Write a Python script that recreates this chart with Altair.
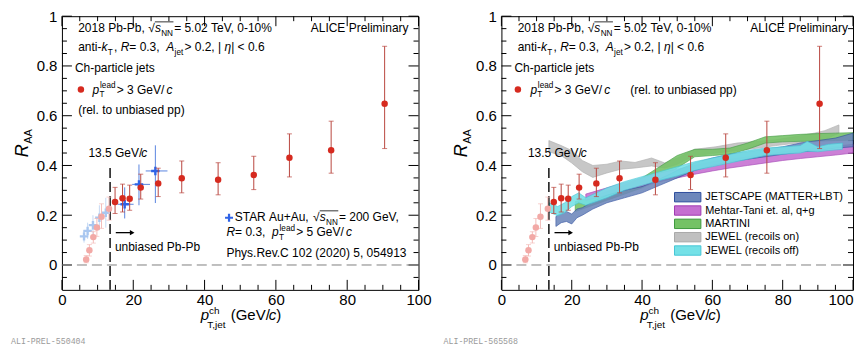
import altair as alt
import pandas as pd

# ---------------- data ----------------
CUT = 13.5  # unbiased Pb-Pb threshold (GeV/c)

# ALICE R_AA (p_T^lead > 3 GeV/c)
alice_pt = [6.8, 7.7, 8.8, 9.8, 11.1, 13.2, 14.9, 17.0, 19.0, 22.1, 27.0, 33.6, 43.8, 53.8, 63.8, 75.5, 90.5]
alice_raa = [0.022, 0.059, 0.112, 0.151, 0.194, 0.226, 0.253, 0.268, 0.266, 0.311, 0.328, 0.349, 0.343, 0.362, 0.431, 0.461, 0.648]
alice_hi = [0.038, 0.082, 0.134, 0.187, 0.246, 0.273, 0.312, 0.325, 0.321, 0.365, 0.389, 0.418, 0.411, 0.437, 0.527, 0.578, 0.879]
alice_lo = [0.009, 0.036, 0.088, 0.115, 0.147, 0.180, 0.207, 0.213, 0.220, 0.265, 0.275, 0.290, 0.282, 0.303, 0.354, 0.369, 0.468]

# STAR Au+Au R = 0.3, p_T^lead > 5 GeV/c
star_pt = [6.2, 7.2, 8.7, 10.5, 12.3, 17.6, 21.6, 26.2]
star_raa = [0.115, 0.137, 0.160, 0.190, 0.210, 0.244, 0.324, 0.378]
star_hi = [0.140, 0.170, 0.200, 0.240, 0.270, 0.312, 0.404, 0.481]
star_lo = [0.090, 0.105, 0.120, 0.140, 0.150, 0.187, 0.240, 0.249]
star_xlo = [5.6, 6.7, 8.0, 9.6, 11.4, 15.6, 19.7, 23.5]
star_xhi = [6.8, 7.8, 9.4, 11.4, 13.2, 20.1, 24.7, 29.6]

# model bands
jetscape_x = [15.5, 17, 18.5, 20, 21.5, 23, 26, 30, 35, 40, 45, 50, 55, 60, 65, 70, 75, 80, 85, 90, 95, 100]
jetscape_hi = [0.195, 0.21, 0.215, 0.205, 0.225, 0.23, 0.255, 0.28, 0.30, 0.315, 0.345, 0.38, 0.41, 0.43, 0.445, 0.455, 0.465, 0.475, 0.49, 0.50, 0.51, 0.53]
jetscape_lo = [0.155, 0.17, 0.175, 0.165, 0.19, 0.20, 0.225, 0.25, 0.27, 0.29, 0.32, 0.35, 0.38, 0.40, 0.415, 0.425, 0.435, 0.445, 0.455, 0.46, 0.47, 0.475]

mehtar_x = [24, 30, 35, 40, 45, 50, 55, 60, 65, 70, 75, 80, 85, 90, 95, 100]
mehtar_hi = [0.285, 0.31, 0.33, 0.35, 0.37, 0.385, 0.40, 0.415, 0.425, 0.435, 0.445, 0.455, 0.462, 0.47, 0.477, 0.485]
mehtar_lo = [0.26, 0.28, 0.30, 0.315, 0.335, 0.35, 0.365, 0.378, 0.39, 0.40, 0.41, 0.42, 0.428, 0.435, 0.442, 0.45]

martini_x = [21, 25, 30, 35, 40, 45, 50, 55, 60, 65, 70, 75, 80, 85, 90, 95, 100]
martini_hi = [0.255, 0.27, 0.295, 0.32, 0.35, 0.395, 0.44, 0.465, 0.465, 0.47, 0.49, 0.515, 0.52, 0.525, 0.528, 0.53, 0.532]
martini_lo = [0.215, 0.235, 0.26, 0.285, 0.31, 0.345, 0.39, 0.435, 0.44, 0.445, 0.465, 0.49, 0.495, 0.497, 0.498, 0.50, 0.502]

jewel_on_x = [13.5, 17, 20, 23, 26, 30, 34, 38, 42.7, 46.5, 50, 55, 61, 67, 73, 78, 84, 89, 92, 96]
jewel_on_hi = [0.50, 0.48, 0.46, 0.42, 0.40, 0.405, 0.418, 0.412, 0.43, 0.41, 0.43, 0.465, 0.475, 0.49, 0.497, 0.503, 0.517, 0.53, 0.54, 0.563]
jewel_on_lo = [0.455, 0.44, 0.41, 0.375, 0.352, 0.37, 0.385, 0.39, 0.398, 0.39, 0.405, 0.44, 0.45, 0.46, 0.47, 0.48, 0.49, 0.50, 0.505, 0.53]

jewel_off_x = [13.5, 16, 18, 20, 22, 24, 27, 30, 35, 40, 45, 50, 55, 60, 65, 70, 75, 80, 85, 87, 90, 93, 97]
jewel_off_hi = [0.25, 0.235, 0.25, 0.275, 0.29, 0.27, 0.29, 0.31, 0.335, 0.355, 0.375, 0.395, 0.415, 0.43, 0.445, 0.46, 0.47, 0.475, 0.48, 0.497, 0.475, 0.485, 0.49]
jewel_off_lo = [0.213, 0.198, 0.21, 0.235, 0.25, 0.24, 0.255, 0.27, 0.30, 0.32, 0.34, 0.358, 0.38, 0.395, 0.41, 0.425, 0.44, 0.445, 0.45, 0.457, 0.455, 0.46, 0.465]

model_names = ["JETSCAPE (MATTER+LBT)", "Mehtar-Tani et. al, q+g", "MARTINI", "JEWEL (recoils on)", "JEWEL (recoils off)"]

# axis ticks
x_major = [0, 20, 40, 60, 80, 100]
x_minor = [5, 10, 15, 25, 30, 35, 45, 50, 55, 65, 70, 75, 85, 90, 95]
y_major = [0, 0.2, 0.4, 0.6, 0.8, 1.0]
y_minor = [-0.05, 0.05, 0.1, 0.15, 0.25, 0.3, 0.35, 0.45, 0.5, 0.55, 0.65, 0.7, 0.75, 0.85, 0.9, 0.95]

# ---------------- style ----------------
W_LEFT, W_RIGHT, H = 357, 352, 274
TOP = 15.5  # page y of the plot top; annotations are placed from reference page coordinates


def PY(page_y):
    return page_y - TOP


FONT = "Liberation Sans"
RED, RED_ERR, RED_F, RED_FERR = "#d62a1f", "#b9463f", "#f2a9a6", "#f3bdba"
BLUE, BLUE_ERR, BLUE_F, BLUE_FERR = "#2f63e6", "#5a86e0", "#a9c7f0", "#c6d9f3"
PLUS = "M-1,-0.28H-0.28V-1H0.28V-0.28H1V0.28H0.28V1H-0.28V0.28H-1Z"
MODEL_STYLE = {
    "JETSCAPE (MATTER+LBT)": ("#6d87bb", "#2e4e9e"),
    "Mehtar-Tani et. al, q+g": ("#c56fd1", "#a13cb3"),
    "MARTINI": ("#74c265", "#3f9a3f"),
    "JEWEL (recoils on)": ("#c0c0c0", "#a9a9a9"),
    "JEWEL (recoils off)": ("#74e1e7", "#46c6d6"),
}

xs = alt.Scale(domain=[0, 100], nice=False, zero=False)
ys = alt.Scale(domain=[-0.1, 1.0], nice=False, zero=False)
yaxis = alt.Axis(values=y_major, ticks=False, domain=False, grid=False, title=None, labelPadding=5,
                 labelExpr="datum.value == 0 ? '0' : (datum.value == 1 ? '1' : format(datum.value, '.1f'))")

dummy = pd.DataFrame({"d": [0]})

AW = {' ': 278, '\u00a0': 278, '%': 889, '(': 333, ')': 333, '+': 584, ',': 278, '-': 333, '.': 278, '/': 278,
      '<': 584, '=': 584, '>': 584, '|': 260, '√': 560, 'η': 556,
      'A': 667, 'B': 667, 'C': 722, 'D': 722, 'E': 667, 'F': 611, 'G': 778, 'H': 722, 'I': 278,
      'J': 500, 'K': 667, 'L': 556, 'M': 833, 'N': 722, 'O': 778, 'P': 667, 'Q': 778, 'R': 722,
      'S': 667, 'T': 611, 'U': 722, 'V': 667, 'W': 944, 'X': 667, 'Y': 667, 'Z': 611,
      'a': 556, 'b': 556, 'c': 500, 'd': 556, 'e': 556, 'f': 278, 'g': 556, 'h': 556, 'i': 222,
      'j': 222, 'k': 500, 'l': 222, 'm': 833, 'n': 556, 'o': 556, 'p': 556, 'q': 556, 'r': 333,
      's': 500, 't': 278, 'u': 556, 'v': 500, 'w': 722, 'x': 500, 'y': 500, 'z': 500}


def tw(s, size):
    return sum(AW.get(c, 556) for c in s) * size / 1000.0


def txt(s, x, y, size, italic=False, align="left", color="black", font=FONT, angle=None,
        baseline="alphabetic"):
    kw = dict(text=s.replace(" ", "\u00a0"), font=font, fontSize=size, align=align, baseline=baseline,
              color=color)
    if italic:
        kw["fontStyle"] = "italic"
    if angle is not None:
        kw["angle"] = angle
    return alt.Chart(dummy).mark_text(**kw).encode(x=alt.value(x), y=alt.value(y))


def hline(x0, x1, y, color="black", w=0.8):
    return alt.Chart(dummy).mark_rule(color=color, strokeWidth=w).encode(
        x=alt.value(x0), x2=alt.value(x1), y=alt.value(y))


SUBF = 0.68


def rich(parts, x0, y0, size):
    out, x, bar0, prev = [], x0, None, ""
    for p in parts:
        t, k = p[0], p[1]
        if k in ("n", "i"):
            if k == "i" and prev.endswith("/"):
                x -= 1.2
            out.append(txt(t, x, y0, size, italic=(k == "i")))
            x += tw(t, size)
            prev = t
        elif k == "sub":
            s = size * SUBF
            out.append(txt(t, x + 0.3, y0 + size * 0.28, s))
            x += tw(t, s) + 1.5
            prev = t
        elif k == "ss":
            s = size * SUBF
            out.append(txt(t, x + 0.3, y0 + size * 0.3, s))
            out.append(txt(p[2], x + 0.8, y0 - size * 0.45, s))
            x += max(tw(t, s), tw(p[2], s) + 0.5) + 1.5
            prev = t
        elif k == "bar0":
            bar0 = x
        elif k == "bar1":
            out.append(hline(bar0, x - 0.7, y0 - size * 0.86))
    return out


alice_df = pd.DataFrame({"x": alice_pt, "y": alice_raa, "hi": alice_hi, "lo": alice_lo})
star_df = pd.DataFrame({"x": star_pt, "y": star_raa, "hi": star_hi, "lo": star_lo,
                        "xlo": star_xlo, "xhi": star_xhi})

band_data = {
    "JETSCAPE (MATTER+LBT)": (jetscape_x, jetscape_hi, jetscape_lo),
    "Mehtar-Tani et. al, q+g": (mehtar_x, mehtar_hi, mehtar_lo),
    "MARTINI": (martini_x, martini_hi, martini_lo),
    "JEWEL (recoils on)": (jewel_on_x, jewel_on_hi, jewel_on_lo),
    "JEWEL (recoils off)": (jewel_off_x, jewel_off_hi, jewel_off_lo),
}
band_order = ["JEWEL (recoils on)", "MARTINI", "Mehtar-Tani et. al, q+g", "JETSCAPE (MATTER+LBT)", "JEWEL (recoils off)"]


def panel(right, ali_text, ali_dx):
    W = W_RIGHT if right else W_LEFT
    if right:
        label_align = {"condition": {"test": "datum.value == 100", "value": "right"}, "value": "center"}
    else:
        label_align = "center"
    xaxis = alt.Axis(values=x_major, ticks=False, domain=False, grid=False, title=None,
                     labelFlush=False, labelPadding=3, labelAlign=label_align)

    def X(f):
        return alt.X(f, type="quantitative", scale=xs, axis=xaxis)

    def Y(f):
        return alt.Y(f, type="quantitative", scale=ys, axis=yaxis)

    def XD(v):
        return alt.XDatum(v, type="quantitative", scale=xs, axis=xaxis)

    def YD(v):
        return alt.YDatum(v, type="quantitative", scale=ys, axis=yaxis)

    L = []
    # ticks (inside the frame, on all four sides)
    for vals, ln in ((x_major, 10), (x_minor, 5)):
        d = pd.DataFrame({"v": vals})
        L.append(alt.Chart(d).mark_rule(color="black", strokeWidth=1).encode(
            x=X("v"), y=alt.value(H), y2=alt.value(H - ln)))
        L.append(alt.Chart(d).mark_rule(color="black", strokeWidth=1).encode(
            x=X("v"), y=alt.value(0), y2=alt.value(ln)))
    for vals, ln in ((y_major, 10), (y_minor, 5)):
        d = pd.DataFrame({"v": vals})
        L.append(alt.Chart(d).mark_rule(color="black", strokeWidth=1).encode(
            y=Y("v"), x=alt.value(0), x2=alt.value(ln)))
        L.append(alt.Chart(d).mark_rule(color="black", strokeWidth=1).encode(
            y=Y("v"), x=alt.value(W), x2=alt.value(W - ln)))

    # zero reference line
    L.append(alt.Chart(dummy).mark_rule(color="#808080", strokeDash=[10, 5], strokeWidth=1).encode(
        x=XD(0), x2=alt.datum(100), y=YD(0)))

    if right:
        for name in band_order:
            bx, bhi, blo = band_data[name]
            fill, stroke = MODEL_STYLE[name]
            d = pd.DataFrame({"x": bx, "hi": bhi, "lo": blo})
            L.append(alt.Chart(d).mark_area(color=fill, opacity=0.88, stroke=stroke, strokeWidth=0.7).encode(
                x=X("x"), y=Y("hi"), y2="lo"))

    # unbiased threshold, arrow and label
    L.append(alt.Chart(dummy).mark_rule(color="black", strokeDash=[10, 4], strokeWidth=1.4).encode(
        x=XD(CUT), y=YD(-0.1), y2=alt.datum(0.395)))
    L.append(alt.Chart(dummy).mark_rule(color="black", strokeWidth=1.3).encode(
        x=XD(15.1), x2=alt.datum(19.6), y=YD(0.13)))
    L.append(alt.Chart(dummy).mark_point(shape="triangle-right", filled=True, color="black", size=28,
                                         opacity=1).encode(x=XD(19.7), y=YD(0.13)))
    L.append(alt.Chart(dummy).mark_text(text="unbiased Pb-Pb", font=FONT, fontSize=12, align="left",
                                        baseline="alphabetic", color="black").encode(x=XD(14.85), y=YD(0.058)))
    L += rich([("13.5 GeV/", "n"), ("c", "i")], 26.5, PY(156.7), 12)

    # STAR points
    if not right:
        for cond, cerr, cpt in ((f"datum.x < {CUT}", BLUE_FERR, BLUE_F), (f"datum.x >= {CUT}", BLUE_ERR, BLUE)):
            base = alt.Chart(star_df).transform_filter(cond)
            L.append(base.mark_rule(color=cerr, strokeWidth=1).encode(x=X("x"), y=Y("lo"), y2="hi"))
            L.append(base.mark_rule(color=cerr, strokeWidth=1).encode(x=X("xlo"), x2="xhi", y=Y("y")))
            L.append(base.mark_point(shape=PLUS, filled=True, color=cpt, size=72, opacity=1, strokeWidth=0).encode(
                x=X("x"), y=Y("y")))

    # ALICE points
    for cond, cerr, cpt in ((f"datum.x < {CUT}", RED_FERR, RED_F), (f"datum.x >= {CUT}", RED_ERR, RED)):
        base = alt.Chart(alice_df).transform_filter(cond)
        L.append(base.mark_rule(color=cerr, strokeWidth=1).encode(x=X("x"), y=Y("lo"), y2="hi"))
        L.append(base.mark_tick(color=cerr, orient="horizontal", size=5, thickness=1).encode(x=X("x"), y=Y("hi")))
        L.append(base.mark_tick(color=cerr, orient="horizontal", size=5, thickness=1).encode(x=X("x"), y=Y("lo")))
        L.append(base.mark_circle(color=cpt, size=42, opacity=1).encode(x=X("x"), y=Y("y")))

    # header
    L += rich([("2018 Pb-Pb, ", "n"), ("√", "n"), ("", "bar0"), ("s", "i"), ("NN", "sub"), ("", "bar1"),
               (" = 5.02 TeV, 0-10%", "n")], 16.3, PY(31.5), 12)
    L.append(txt("ALICE Preliminary", 347, PY(31.5), 12, align="right"))
    L += rich([("anti-", "n"), ("k", "i"), ("T", "sub"), (", ", "n"), ("R", "i"), (" = 0.3, ", "n"),
               ("A", "i"), ("jet", "sub"), (" > 0.2, |", "n"), ("η", "i"), ("| < 0.6", "n")], 16.3, PY(50.5), 12)
    L.append(txt("Ch-particle jets", 13.0, PY(71.5), 12))
    if right:
        L.append(alt.Chart(dummy).mark_circle(color=RED, size=42, opacity=1).encode(
            x=alt.value(16.5), y=alt.value(PY(89))))
        L += rich([("p", "i"), ("T", "ss", "lead"), (" > 3 GeV/", "n"), ("c", "i")], 29, PY(93), 12)
        L.append(txt("(rel. to unbiased pp)", 129, PY(93), 12))
        for i, name in enumerate(model_names):
            cy = PY(196.7 + 13.35 * i)
            fill, stroke = MODEL_STYLE[name]
            L.append(alt.Chart(dummy).mark_rect(color=fill, stroke=stroke, strokeWidth=1).encode(
                x=alt.value(173.3), x2=alt.value(199.7), y=alt.value(cy - 4.7), y2=alt.value(cy + 4.7)))
            L.append(txt(name, 204, cy, 11, baseline="middle"))
    else:
        L.append(alt.Chart(dummy).mark_circle(color=RED, size=42, opacity=1).encode(
            x=alt.value(19), y=alt.value(PY(89))))
        L += rich([("p", "i"), ("T", "ss", "lead"), (" > 3 GeV/", "n"), ("c", "i")], 30.7, PY(93), 12)
        L.append(txt("(rel. to unbiased pp)", 16.3, PY(113), 12))
        # STAR legend
        L.append(alt.Chart(dummy).mark_point(shape=PLUS, filled=True, color=BLUE, size=64, opacity=1,
                                             strokeWidth=0).encode(x=alt.value(167.3), y=alt.value(PY(217.3))))
        L += rich([("STAR Au+Au, ", "n"), ("√", "n"), ("", "bar0"), ("s", "i"), ("NN", "sub"), ("", "bar1"),
                   (" = 200 GeV,", "n")], 173, PY(220.7), 12)
        L += rich([("R", "i"), (" = 0.3, ", "n"), ("p", "i"), ("T", "ss", "lead"), (" > 5 GeV/", "n"),
                   ("c", "i")], 164.7, PY(236), 12)
        L.append(txt("Phys.Rev.C 102 (2020) 5, 054913", 164.7, PY(256.7), 12))

    # axis titles
    L.append(txt("R", -34, PY(156.7), 18, italic=True, angle=270))
    L.append(txt("AA", -30, PY(143.2), 11, angle=270))
    L.append(txt("p", 139, PY(320), 15, italic=True))
    L.append(txt("ch", 147.3, PY(313.5), 10))
    L.append(txt("T,jet", 145.5, PY(328), 10))
    L += rich([("(GeV/", "n"), ("c", "i"), (")", "n")], 169, PY(320), 15)
    # preliminary id
    L.append(txt(ali_text, ali_dx, PY(344), 8.3, font="Liberation Mono", color="#9a9a9a"))
    return alt.layer(*L).properties(width=W, height=H)


left = panel(False, "ALI-PREL-550404", -51)
right = panel(True, "ALI-PREL-565568", -58)

chart = alt.hconcat(left, right, spacing=83, bounds="flush").properties(
    padding={"left": 2, "top": 0, "right": 0, "bottom": 0}
).configure_view(stroke="black", strokeWidth=1).configure_axis(
    labelFont=FONT, labelFontSize=15, labelColor="black"
)

chart.save("out.html", embed_options={"renderer": "svg", "actions": False})
